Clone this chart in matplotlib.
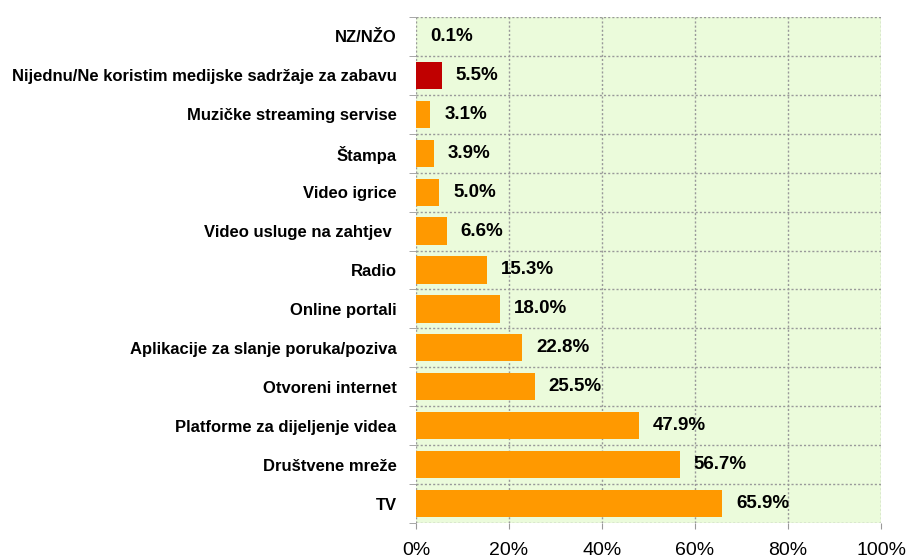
import matplotlib
matplotlib.use("Agg")
import matplotlib.pyplot as plt
from matplotlib.ticker import FixedLocator

categories = ["NZ/NŽO", "Nijednu/Ne koristim medijske sadržaje za zabavu",
              "Muzičke streaming servise", "Štampa", "Video igrice",
              "Video usluge na zahtjev ", "Radio", "Online portali",
              "Aplikacije za slanje poruka/poziva", "Otvoreni internet",
              "Platforme za dijeljenje videa", "Društvene mreže", "TV"]
values = [0.1, 5.5, 3.1, 3.9, 5.0, 6.6, 15.3, 18.0, 22.8, 25.5, 47.9, 56.7, 65.9]
colors = ["#FF9900", "#C00000"] + ["#FF9900"] * 11
xticks = [0, 20, 40, 60, 80, 100]
xticklabels = ["0%", "20%", "40%", "60%", "80%", "100%"]

plt.rcParams['font.family'] = ['Liberation Sans', 'DejaVu Sans']

fig = plt.figure(figsize=(9.07, 5.59), dpi=100)
ax = fig.add_axes([416/907, 1-523/559, (881-416)/907, (523-17)/559])
ax.set_facecolor("#EBFBDB")

n = len(categories)
ypos = list(range(n))
ax.barh(ypos, values, height=0.7, color=colors, edgecolor="none", zorder=3)
ax.set_ylim(n - 0.5, -0.5)
ax.set_xlim(0, 100)

for y, v in zip(ypos, values):
    ax.annotate(f"{v:.1f}%", (v, y), xytext=(10, 0), textcoords="offset points",
                va="center", ha="left", fontsize=13.5, fontweight="bold", zorder=4)

ax.set_xticks(xticks)
ax.set_xticklabels(xticklabels, fontsize=14)
ax.set_yticks(ypos)
ax.set_yticklabels(categories, fontsize=12, fontweight="bold")
ax.yaxis.set_minor_locator(FixedLocator([i - 0.5 for i in range(n + 1)]))
ax.tick_params(axis="y", which="major", length=0, pad=14)
ax.tick_params(axis="y", which="minor", length=5, color="#999999")
ax.tick_params(axis="x", which="major", length=4, color="#999999", direction="out", pad=10)

ax.grid(axis="x", which="major", color="#999999", linestyle=(0, (1.5, 1.5)), linewidth=1, zorder=1)
ax.grid(axis="y", which="minor", color="#999999", linestyle=(0, (1.5, 1.5)), linewidth=1, zorder=1)
ax.grid(axis="y", which="major", visible=False)
for s in ax.spines.values():
    s.set_visible(False)

fig.savefig("out.png", dpi=100)
